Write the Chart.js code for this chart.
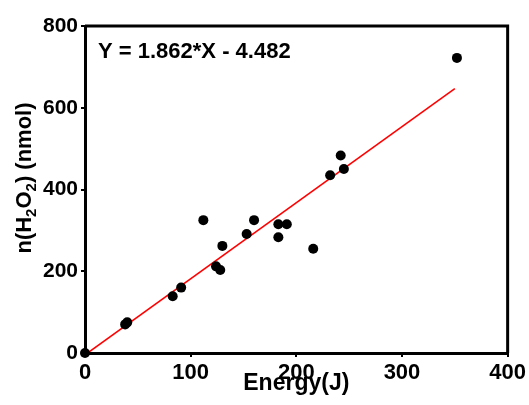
<!DOCTYPE html>
<html>
<head>
<meta charset="utf-8">
<script src="https://cdn.jsdelivr.net/npm/chart.js@4"></script>
<style>
  html, body { margin: 0; padding: 0; background: #fff; }
  #wrap { width: 529px; height: 405px; }
</style>
</head>
<body>
<div id="wrap"><canvas id="chart1"></canvas></div>
<script>
// measured points (Energy in J, n(H2O2) in nmol)
var energy = [0, 38, 40, 83, 91, 112, 124, 128, 130, 153, 160, 183, 191, 183, 216, 232, 242, 245, 352];
var h2o2   = [0, 70, 75, 139, 160, 325, 212, 203, 262, 291, 325, 315, 315, 283, 255, 435, 483, 450, 722];

// ends of the fitted line Y = 1.862*X - 4.482
var fitX = [0, 350];
var fitY = [-4.5, 647];

var equationText = 'Y = 1.862*X - 4.482';
var xTicks = [0, 100, 200, 300, 400];
var yTicks = [0, 200, 400, 600, 800];

var FONT = "'Liberation Sans', Arial, sans-serif";

// box on top/right + equation + y title with subscripts
var extras = {
  id: 'extras',
  beforeDatasetsDraw: function(chart) {
    var a = chart.chartArea, ctx = chart.ctx;
    ctx.save();
    ctx.strokeStyle = '#000';
    ctx.lineWidth = 3;
    ctx.beginPath();
    ctx.moveTo(a.left, a.top);
    ctx.lineTo(a.right, a.top);
    ctx.lineTo(a.right, a.bottom);
    ctx.stroke();
    ctx.restore();
  },
  afterDraw: function(chart) {
    var a = chart.chartArea, ctx = chart.ctx;
    ctx.save();
    ctx.fillStyle = '#000';
    ctx.font = 'bold 22px ' + FONT;
    ctx.textBaseline = 'alphabetic';
    ctx.textAlign = 'left';
    ctx.fillText(equationText, a.left + 13, a.top + 32);

    // y title, rotated
    var parts = [['n(H', 0], ['2', 1], ['O', 0], ['2', 1], [') (nmol)', 0]];
    var big = 'bold 22px ' + FONT, small = 'bold 15px ' + FONT;
    var total = 0;
    parts.forEach(function(p) { ctx.font = p[1] ? small : big; total += ctx.measureText(p[0]).width; });
    ctx.translate(31, 178);
    ctx.rotate(-Math.PI / 2);
    var x = -total / 2;
    parts.forEach(function(p) {
      ctx.font = p[1] ? small : big;
      ctx.fillText(p[0], x, p[1] ? 5 : 0);
      x += ctx.measureText(p[0]).width;
    });
    ctx.restore();
  }
};

var ctx1 = document.getElementById('chart1').getContext('2d');
var chart1 = new Chart(ctx1, {
  type: 'scatter',
  data: {
    datasets: [{
      label: 'data',
      data: energy.map((e, i) => ({ x: e, y: h2o2[i] })),
      backgroundColor: '#000',
      borderColor: '#000',
      borderWidth: 0,
      pointRadius: 5,
      clip: false,
      order: 0
    }, {
      label: 'fit',
      type: 'line',
      data: fitX.map((e, i) => ({ x: e, y: fitY[i] })),
      borderColor: 'rgb(255,0,0)',
      borderWidth: 1.6,
      pointRadius: 0,
      fill: false,
      order: 1
    }]
  },
  options: {
    responsive: true,
    maintainAspectRatio: false,
    animation: false,
    layout: { padding: { top: 26, right: 19, left: 0, bottom: 0 } },
    plugins: { legend: { display: false }, tooltip: { enabled: false } },
    scales: {
      x: {
        type: 'linear',
        min: 0, max: 400,
        afterBuildTicks: function(s) { s.ticks = xTicks.map(v => ({ value: v })); },
        afterFit: function(s) { s.height = 52; },
        border: { display: true, color: '#000', width: 3 },
        grid: { drawOnChartArea: false, drawTicks: true, tickLength: 4, color: '#000', lineWidth: 2 },
        ticks: { color: '#000', padding: 3, maxRotation: 0, font: { family: FONT, size: 22, weight: 'bold' } },
        title: {
          display: true, text: 'Energy(J)', color: '#000',
          padding: { top: 0, bottom: 8 },
          font: { family: FONT, size: 23, weight: 'bold' }
        }
      },
      y: {
        type: 'linear',
        min: 0, max: 800,
        afterBuildTicks: function(s) { s.ticks = yTicks.map(v => ({ value: v })); },
        afterFit: function(s) { s.width = 85; },
        border: { display: true, color: '#000', width: 3 },
        grid: { drawOnChartArea: false, drawTicks: true, tickLength: 4, color: '#000', lineWidth: 2 },
        ticks: { color: '#000', padding: 3, font: { family: FONT, size: 21, weight: 'bold' } }
      }
    }
  },
  plugins: [extras]
});
</script>
</body>
</html>
